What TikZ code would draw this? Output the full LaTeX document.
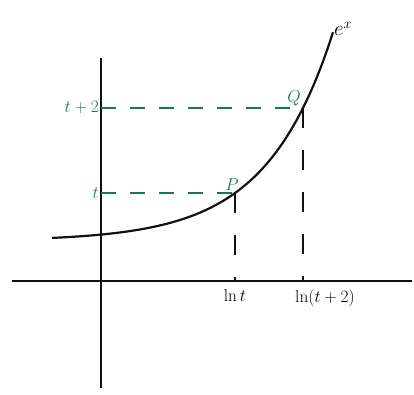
\documentclass[tikz,border=0pt]{standalone}
\usepackage{amsmath}
\usepackage{xcolor}
\usepackage{tikz}
\usetikzlibrary{arrows.meta, positioning, calc}
\definecolor{markgreen}{HTML}{12795C}
\definecolor{axisblack}{HTML}{111111}

\begin{document}
\begin{tikzpicture}[x=1pt, y=-1pt,
  axis/.style={line width=2pt, color=axisblack},
  curve/.style={line width=2.2pt, color=axisblack},
  guide/.style={dash pattern=on 15pt off 14pt, line width=2.4pt, color=markgreen},
  drop/.style={dash pattern=on 20pt off 22pt, line width=2pt, color=axisblack},
  label/.style={font=\LARGE, inner sep=2pt},
  greenlabel/.style={label, color=markgreen},
]
\useasboundingbox (0,0) rectangle (414,394);

% Axes
\coordinate (xl) at (12,281);
\coordinate (xr) at (412,281);
\coordinate (yb) at (101,388);
\coordinate (yt) at (101,58);
\draw[axis] (xl) -- (xr);
\draw[axis] (yt) -- (yb);

% Exponential curve
\draw[curve] plot[domain=52:333, samples=80, smooth]
  (\x, {241-6.43*exp(0.015*(\x-101))});
\node[label, font=\huge, anchor=south west] (ex) at (332,38) {$e^x$};

% Points on the curve
\coordinate (P) at (235,{241-6.43*exp(0.015*134)});
\coordinate (Q) at (303,{241-6.43*exp(0.015*202)});
\node[greenlabel, anchor=south] (plab) at ($(P)+(-3,0)$) {$P$};
\node[greenlabel, anchor=south] (qlab) at ($(Q)+(-9,0)$) {$Q$};

% Values on the y-axis
\node[greenlabel, anchor=east] (tlab) at (P -| yt) {$t$};
\node[greenlabel, anchor=east] (t2lab) at (Q -| yt) {$t+2$};
\draw[guide] (tlab.east) -- (P);
\draw[guide] (t2lab.east) -- (Q);

% Values on the x-axis
\coordinate (Pd) at (P |- xl);
\coordinate (Qd) at (Q |- xl);
\draw[drop] (P) -- (Pd);
\draw[drop] (Q) -- (Qd);
\node[label, anchor=north] (lnt) at ($(Pd)+(0,6)$) {$\ln t$};
\node[label, anchor=north] (lnt2) at ($(Qd)+(22,6)$) {$\ln(t+2)$};
\end{tikzpicture}
\end{document}
